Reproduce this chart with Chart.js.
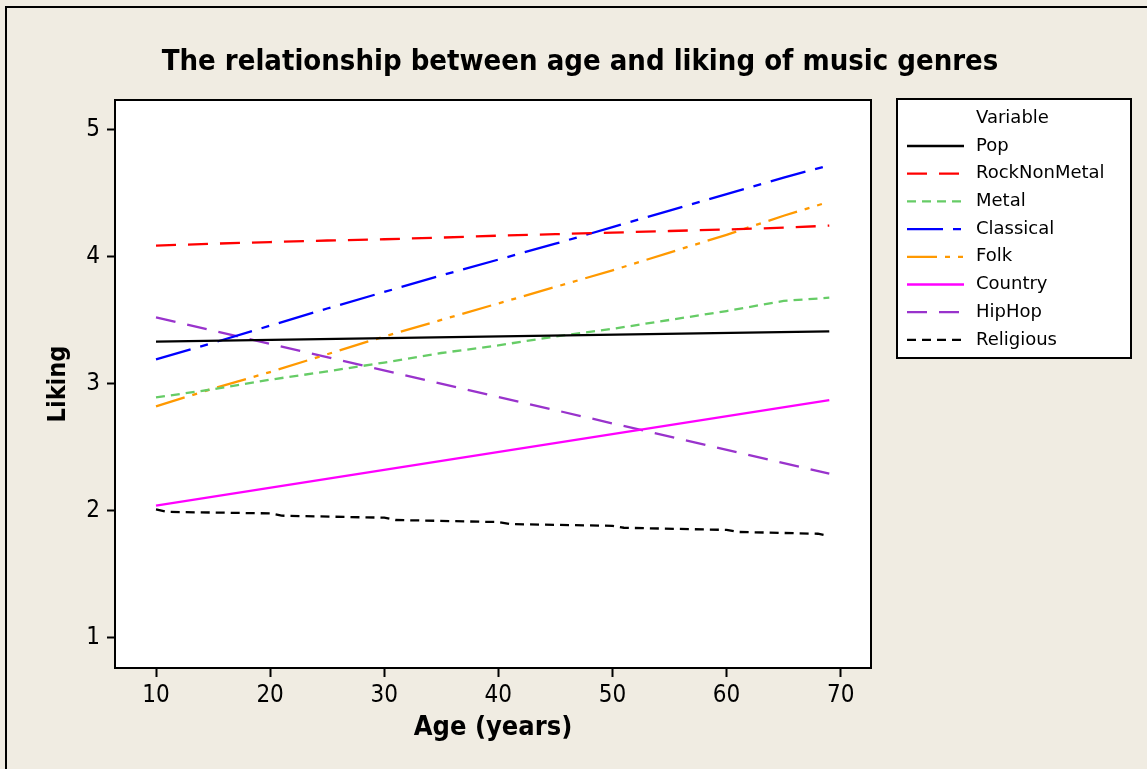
<!DOCTYPE html>
<html><head><meta charset="utf-8">
<script src="https://cdn.jsdelivr.net/npm/chart.js@4.4.1/dist/chart.umd.min.js"></script>
<style>html,body{margin:0;padding:0;background:#f0ece2;overflow:hidden}canvas{display:block}</style>
</head><body>
<canvas id="c" width="1147" height="769" style="width:1147px;height:769px"></canvas>
<script>
// ---- data ----
const titleText = 'The relationship between age and liking of music genres';
const xTitle = 'Age (years)';
const yTitle = 'Liking';
const legendTitle = 'Variable';
const xTicks = [10, 20, 30, 40, 50, 60, 70];
const yTicks = [1, 2, 3, 4, 5];

const ages = [10, 15, 20, 25, 30, 35, 40, 45, 50, 55, 60, 65, 69];
const endAges = [10, 69];
const religiousAges = [10, 11, 20, 21, 30, 31, 40, 41, 50, 51, 60, 61, 68, 69];

const pop = [3.33, 3.41];
const rockNonMetal = [4.085, 4.10, 4.113, 4.125, 4.135, 4.148, 4.163, 4.175, 4.187, 4.20, 4.212, 4.226, 4.242];
const metal = [2.89, 2.955, 3.03, 3.095, 3.165, 3.24, 3.30, 3.37, 3.43, 3.50, 3.57, 3.65, 3.675];
const classical = [3.19, 3.32, 3.455, 3.59, 3.72, 3.85, 3.975, 4.10, 4.23, 4.36, 4.49, 4.62, 4.717];
const folk = [2.82, 2.96, 3.09, 3.23, 3.37, 3.50, 3.63, 3.76, 3.89, 4.03, 4.17, 4.32, 4.43];
const country = [2.04, 2.87];
const hipHop = [3.52, 2.29];
const religious = [2.01, 1.99, 1.978, 1.96, 1.944, 1.926, 1.91, 1.894, 1.88, 1.865, 1.848, 1.832, 1.818, 1.80];

const FONT = "'DejaVu Sans Condensed', 'DejaVu Sans', sans-serif";
const LEGFONT = "'DejaVu Sans', sans-serif";
const LW = 2.3;

function pts(xs, ys) { return xs.map((x, i) => ({ x: x, y: ys[i] })); }
function ds(label, xs, ys, color, dash) {
  return { label, data: pts(xs, ys), borderColor: color, backgroundColor: color,
    borderWidth: LW, borderDash: dash, pointRadius: 0, tension: 0, fill: false };
}

const datasets = [
  ds('Pop', endAges, pop, '#000000', []),
  ds('RockNonMetal', ages, rockNonMetal, '#ff0000', [20, 12]),
  ds('Metal', ages, metal, '#66cc66', [9, 6]),
  ds('Classical', ages, classical, '#0000ff', [36, 10, 8, 10]),
  ds('Folk', ages, folk, '#ff9900', [30, 8, 5, 8, 5, 8]),
  ds('Country', endAges, country, '#ff00ff', []),
  ds('HipHop', endAges, hipHop, '#9933cc', [20, 12]),
  ds('Religious', religiousAges, religious, '#000000', [9, 6])
];

const decor = {
  id: 'decor',
  beforeDraw(chart) {
    const { ctx, chartArea: a } = chart;
    ctx.save();
    ctx.fillStyle = '#f0ece2';
    ctx.fillRect(0, 0, chart.width, chart.height);
    ctx.strokeStyle = '#000'; ctx.lineWidth = 2;
    ctx.strokeRect(6, 7, chart.width + 20, chart.height + 20);
    ctx.fillStyle = '#ffffff';
    ctx.fillRect(a.left, a.top, a.right - a.left, a.bottom - a.top);
    ctx.restore();
  },
  afterDraw(chart) {
    const { ctx, chartArea: a } = chart;
    ctx.save();
    ctx.strokeStyle = '#000'; ctx.lineWidth = 2; ctx.setLineDash([]);
    ctx.strokeRect(a.left, a.top, a.right - a.left, a.bottom - a.top);
    // title
    ctx.fillStyle = '#000';
    ctx.textAlign = 'center'; ctx.textBaseline = 'middle';
    ctx.font = "bold 29px " + FONT;
    ctx.fillText(titleText, 580, 62);
    // axis titles
    ctx.font = "bold 27px " + FONT;
    ctx.fillText(xTitle, (a.left + a.right) / 2, 728);
    ctx.font = "bold 25px " + FONT;
    ctx.save();
    ctx.translate(58, (a.top + a.bottom) / 2);
    ctx.rotate(-Math.PI / 2);
    ctx.fillText(yTitle, 0, 0);
    ctx.restore();
    // legend
    const bx = 897, by = 99, bw = 234, bh = 259;
    ctx.fillStyle = '#fff'; ctx.fillRect(bx, by, bw, bh);
    ctx.strokeRect(bx, by, bw, bh);
    ctx.fillStyle = '#000';
    ctx.textAlign = 'left';
    ctx.font = "18px " + LEGFONT;
    ctx.fillText(legendTitle, 976, 118);
    chart.data.datasets.forEach((d, i) => {
      const y = 146 + i * 27.7;
      ctx.strokeStyle = d.borderColor; ctx.lineWidth = LW;
      ctx.setLineDash(d.borderDash);
      ctx.beginPath(); ctx.moveTo(907, y); ctx.lineTo(964, y); ctx.stroke();
      ctx.setLineDash([]);
      ctx.fillStyle = '#000';
      ctx.fillText(d.label, 976, y);
    });
    ctx.restore();
  }
};

new Chart(document.getElementById('c'), {
  type: 'line',
  data: { datasets },
  options: {
    responsive: false, animation: false, devicePixelRatio: 1,
    layout: { padding: { top: 100, right: 276, bottom: 0, left: 0 } },
    plugins: { legend: { display: false }, title: { display: false }, tooltip: { enabled: false } },
    scales: {
      x: {
        type: 'linear', min: 6.407, max: 72.655,
        afterFit(s) { s.height = 101; },
        afterBuildTicks(s) { s.ticks = xTicks.map(v => ({ value: v })); },
        border: { display: false },
        grid: { display: true, drawOnChartArea: false, drawTicks: true, tickLength: 9, tickWidth: 2, tickColor: '#000' },
        ticks: { color: '#000', padding: 4, maxRotation: 0, font: { family: FONT, size: 24 } }
      },
      y: {
        type: 'linear', min: 0.7616, max: 5.2305,
        afterFit(s) { s.width = 115; },
        afterBuildTicks(s) { s.ticks = yTicks.map(v => ({ value: v })); },
        border: { display: false },
        grid: { display: true, drawOnChartArea: false, drawTicks: true, tickLength: 8, tickWidth: 2, tickColor: '#000' },
        ticks: { color: '#000', padding: 7, font: { family: FONT, size: 24 } }
      }
    }
  },
  plugins: [decor]
});
</script>
</body></html>
